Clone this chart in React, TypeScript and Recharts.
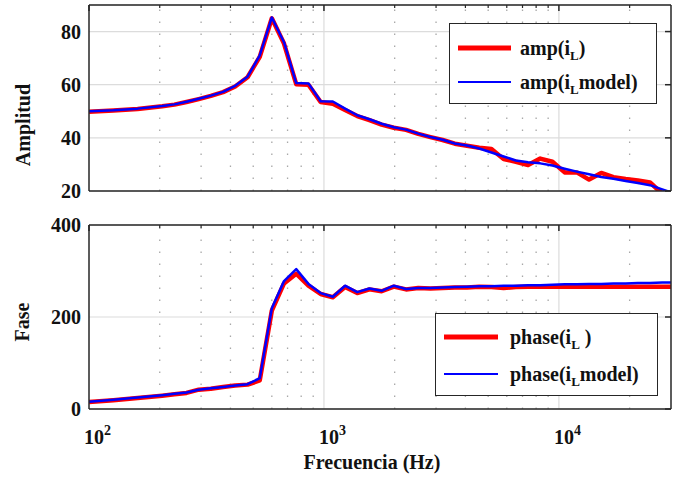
import React from 'react';
import { LineChart, Line, XAxis, YAxis, CartesianGrid, ReferenceLine, Legend } from 'recharts';

/* ── Data ────────────────────────────────────────── */
const FREQ = [
    100, 127, 161, 205, 231, 260, 293, 330, 372, 419, 473, 533, 600, 676, 762, 859, 968,
    1091, 1230, 1386, 1562, 1760, 1984, 2236, 2520, 2840, 3200, 3607, 4065, 4581, 5163,
    5819, 6558, 7391, 8330, 9388, 10580, 11924, 13438, 15145, 17068, 19236, 21679, 24432,
    27535, 30000,
];

const AMP_MEAS = [
    49.8, 50.3, 50.9, 51.9, 52.5, 53.5, 54.6, 55.8, 57.2, 59.3, 62.8, 70.5, 85.0, 75.5, 60.2, 60.0, 53.5,
    52.8, 50.5, 48.2, 46.7, 45.0, 43.8, 43.0, 41.5, 40.3, 39.2, 37.8, 37.0, 36.3, 35.8,
    32.0, 31.0, 29.8, 32.2, 31.0, 27.0, 27.0, 24.3, 26.8, 25.2, 24.5, 24.0, 23.2,
    19.0, 17.5,
];

const AMP_MODEL = [
    50.0, 50.4, 51.0, 52.0, 52.6, 53.6, 54.7, 55.9, 57.3, 59.6, 63.0, 71.0, 85.3, 76.0, 60.6, 60.5, 53.8,
    53.7, 51.0, 48.5, 47.0, 45.3, 44.0, 43.1, 41.6, 40.3, 39.3, 37.9, 37.1, 36.0, 34.5,
    33.0, 31.5, 30.8, 30.4, 29.6, 28.4, 27.3, 26.3, 25.3, 24.6, 23.8, 23.0, 22.2,
    20.6, 19.5,
];

const PHASE_MEAS = [
    15, 19, 24, 29, 32, 35, 42, 44, 48, 51, 53, 62, 214, 273, 294, 268, 250,
    243, 265, 252, 260, 256, 266, 260, 263, 262, 263, 264, 264, 266, 265,
    263, 265, 266, 266, 266, 266, 266, 266, 266, 266, 266, 266, 266,
    266, 266,
];

const PHASE_MODEL = [
    16, 20, 25, 30, 33, 36, 42, 45, 48, 51, 54, 67, 219, 278, 304, 272, 252,
    244, 268, 254, 262, 257, 268, 261, 263, 263, 264, 265, 266, 267, 267,
    268, 268, 269, 269, 270, 271, 271, 272, 272, 273, 273, 274, 274,
    275, 275,
];

const X_DOMAIN = [100, 30000];
const DECADES = [100, 1000, 10000];
const MINOR = [200, 300, 400, 500, 600, 700, 800, 900, 2000, 3000, 4000, 5000, 6000, 7000, 8000, 9000, 20000];
const AMP_DOMAIN = [20, 90];
const AMP_TICKS = [20, 40, 60, 80];
const PHASE_DOMAIN = [0, 400];
const PHASE_TICKS = [0, 200, 400];

const rows = FREQ.map((f, i) => ({
    f,
    ampMeas: AMP_MEAS[i],
    ampModel: AMP_MODEL[i],
    phaseMeas: PHASE_MEAS[i],
    phaseModel: PHASE_MODEL[i],
}));

/* ── Styles ──────────────────────────────────────── */
const FONT = '"Liberation Serif", "Times New Roman", serif';
const AXIS = '#262626';
const GRID = '#dcdcdc';
const MINOR_GRID = '#a8a8a8';
const RED = '#ff0000';
const BLUE = '#0000ff';
const INK = '#111';
const tickFont = { fill: INK, fontSize: 20, fontWeight: 700, fontFamily: FONT };
const THIN = 0.01; // frame axes need a non-zero size to be drawn
const W = 678;
const PLOT_LEFT = 89;
const PLOT_RIGHT_PAD = 7;
const PLOT_RIGHT = W - PLOT_RIGHT_PAD;

/* ── Helpers ─────────────────────────────────────── */
const renderName = (name: string) => {
    const [a, b] = name.split('_L');
    return (
        <>
            {a}
            <sub style={{ fontSize: 13, verticalAlign: -5, lineHeight: 0 }}>L</sub>
            {b}
        </>
    );
};

type BoxSpec = { w: number; h: number; rows: number[]; lx1: number; lx2: number; tx: number };

const makeLegend = (box: BoxSpec) => (props: any) => {
    const items = props.payload || [];
    return (
        <div style={{
            position: 'relative', width: box.w, height: box.h, boxSizing: 'border-box',
            border: `1.5px solid ${AXIS}`, background: '#fff',
        }}>
            {items.map((item: any, i: number) => (
                <div key={item.value} style={{ position: 'absolute', left: 0, top: box.rows[i] - 14, height: 28, width: box.w }}>
                    <svg width={box.w} height={28} style={{ position: 'absolute', left: 0, top: 0 }}>
                        <line x1={box.lx1} x2={box.lx2} y1={14} y2={14} stroke={item.color} strokeWidth={i === 0 ? 5 : 2} />
                    </svg>
                    <span style={{
                        position: 'absolute', left: box.tx, top: 2, whiteSpace: 'nowrap',
                        fontFamily: FONT, fontWeight: 700, fontSize: 20, lineHeight: '24px', color: INK,
                    }}>
                        {renderName(item.value)}
                    </span>
                </div>
            ))}
        </div>
    );
};

const DecadeTick = (props: any) => {
    const { x, y, payload } = props;
    const exp = Math.round(Math.log10(payload.value));
    return (
        <text x={x - 5} y={y + 27} textAnchor="start" fontFamily={FONT} fontWeight={700} fontSize={20} fill={INK}>
            <tspan>10</tspan>
            <tspan dy={-9} fontSize={14}>{exp}</tspan>
        </text>
    );
};

// box edge along the bottom with inward major/minor ticks (mirrored axes)
const bottomEdge = () => [
    <XAxis key="bmaj" xAxisId="bmaj" dataKey="f" type="number" scale="log" domain={X_DOMAIN} allowDataOverflow
        orientation="bottom" mirror height={THIN} ticks={DECADES} interval={0} tick={false} tickSize={6} stroke={AXIS} strokeWidth={1.5} />,
    <XAxis key="bmin" xAxisId="bmin" dataKey="f" type="number" scale="log" domain={X_DOMAIN} allowDataOverflow
        orientation="bottom" mirror height={THIN} ticks={MINOR} interval={0} tick={false} tickSize={3} axisLine={false} stroke={AXIS} strokeWidth={1.2} />,
];

// box edge along the left with inward ticks
const leftEdge = (yDomain: number[], yTicks: number[]) => (
    <YAxis key="lmaj" yAxisId="lmaj" type="number" domain={yDomain} allowDataOverflow orientation="left" mirror width={THIN}
        ticks={yTicks} interval={0} tick={false} tickSize={6} stroke={AXIS} strokeWidth={1.5} />
);

/* ── Top/right frame (plain svg overlay, same log / linear mapping as the plot) ── */
type FrameProps = { height: number; plotTop: number; plotBottom: number; yDomain: number[]; yTicks: number[] };

const FrameOverlay = ({ height, plotTop, plotBottom, yDomain, yTicks }: FrameProps) => {
    const lx0 = Math.log10(X_DOMAIN[0]);
    const lx1 = Math.log10(X_DOMAIN[1]);
    const xPx = (v: number) => PLOT_LEFT + ((Math.log10(v) - lx0) / (lx1 - lx0)) * (PLOT_RIGHT - PLOT_LEFT);
    const yPx = (v: number) => plotBottom - ((v - yDomain[0]) / (yDomain[1] - yDomain[0])) * (plotBottom - plotTop);
    return (
        <svg width={W} height={height} style={{ position: 'absolute', left: 0, top: 0, pointerEvents: 'none' }}>
            <line x1={PLOT_LEFT} x2={PLOT_RIGHT} y1={plotTop} y2={plotTop} stroke={AXIS} strokeWidth={1.5} />
            <line x1={PLOT_RIGHT} x2={PLOT_RIGHT} y1={plotTop} y2={plotBottom} stroke={AXIS} strokeWidth={1.5} />
            {DECADES.map((v) => (
                <line key={`t${v}`} x1={xPx(v)} x2={xPx(v)} y1={plotTop} y2={plotTop + 6} stroke={AXIS} strokeWidth={1.5} />
            ))}
            {MINOR.map((v) => (
                <line key={`m${v}`} x1={xPx(v)} x2={xPx(v)} y1={plotTop} y2={plotTop + 3} stroke={AXIS} strokeWidth={1.2} />
            ))}
            {yTicks.map((v) => (
                <line key={`r${v}`} x1={PLOT_RIGHT - 6} x2={PLOT_RIGHT} y1={yPx(v)} y2={yPx(v)} stroke={AXIS} strokeWidth={1.5} />
            ))}
        </svg>
    );
};

const gridLines = () => [
    ...DECADES.slice(1).map((v) => (
        <ReferenceLine key={`maj${v}`} x={v} xAxisId="lab" yAxisId="lab" stroke={GRID} strokeWidth={1.2} />
    )),
    ...MINOR.map((v) => (
        <ReferenceLine key={`min${v}`} x={v} xAxisId="lab" yAxisId="lab" stroke={MINOR_GRID} strokeWidth={1.3} strokeDasharray="1.5 10.5" />
    )),
];

/* ── Panels ──────────────────────────────────────── */
const AmpPanel = () => (
    <div style={{ position: 'absolute', left: 0, top: 0, width: W, height: 205 }}>
        <LineChart width={W} height={205} data={rows} margin={{ top: 5, right: PLOT_RIGHT_PAD, bottom: 0, left: 0 }}>
            <CartesianGrid xAxisId="lab" yAxisId="lab" vertical={false} stroke={GRID} strokeWidth={1.2} />
            {gridLines()}
            <XAxis xAxisId="lab" dataKey="f" type="number" scale="log" domain={X_DOMAIN} allowDataOverflow
                ticks={DECADES} interval={0} tick={false} tickLine={false} axisLine={false} height={14} />
            <YAxis yAxisId="lab" type="number" domain={AMP_DOMAIN} allowDataOverflow ticks={AMP_TICKS} interval={0}
                width={PLOT_LEFT} tickLine={false} axisLine={false} tick={tickFont}
                label={() => (
                    <text x={23} y={125} transform="rotate(-90 23 125)" textAnchor="middle" dominantBaseline="central"
                        fontFamily={FONT} fontWeight={700} fontSize={20} fill={INK}>Amplitud</text>
                )} />
            {bottomEdge()}
            {leftEdge(AMP_DOMAIN, AMP_TICKS)}
            <Line xAxisId="lab" yAxisId="lab" dataKey="ampMeas" name="amp(i_L)" stroke={RED} strokeWidth={4.5}
                dot={false} isAnimationActive={false} strokeLinejoin="round" />
            <Line xAxisId="lab" yAxisId="lab" dataKey="ampModel" name="amp(i_Lmodel)" stroke={BLUE} strokeWidth={2.5}
                dot={false} isAnimationActive={false} strokeLinejoin="round" />
            <Legend layout="vertical" align="center" verticalAlign="middle"
                wrapperStyle={{ left: 449, top: 23, width: 208, height: 81 }}
                content={makeLegend({ w: 208, h: 81, rows: [24, 58], lx1: 8, lx2: 61, tx: 70 })} />
        </LineChart>
        <FrameOverlay height={205} plotTop={5} plotBottom={191} yDomain={AMP_DOMAIN} yTicks={AMP_TICKS} />
    </div>
);

// phase panel starts at y=205 so the "400" label has room above the frame (frame top at 225)
const PhasePanel = () => (
    <div style={{ position: 'absolute', left: 0, top: 205, width: W, height: 272 }}>
        <LineChart width={W} height={272} data={rows} margin={{ top: 20, right: PLOT_RIGHT_PAD, bottom: 0, left: 0 }}>
            <CartesianGrid xAxisId="lab" yAxisId="lab" vertical={false} stroke={GRID} strokeWidth={1.2} />
            {gridLines()}
            <XAxis xAxisId="lab" dataKey="f" type="number" scale="log" domain={X_DOMAIN} allowDataOverflow
                ticks={DECADES} interval={0} tick={DecadeTick} tickLine={false} axisLine={false} height={68}
                label={() => (
                    <text x={372} y={264} textAnchor="middle" fontFamily={FONT} fontWeight={700} fontSize={20} fill={INK}>
                        Frecuencia (Hz)
                    </text>
                )} />
            <YAxis yAxisId="lab" type="number" domain={PHASE_DOMAIN} allowDataOverflow ticks={PHASE_TICKS} interval={0}
                width={PLOT_LEFT} tickLine={false} axisLine={false} tick={tickFont}
                label={() => (
                    <text x={22} y={117} transform="rotate(-90 22 117)" textAnchor="middle" dominantBaseline="central"
                        fontFamily={FONT} fontWeight={700} fontSize={20} fill={INK}>Fase</text>
                )} />
            {bottomEdge()}
            {leftEdge(PHASE_DOMAIN, PHASE_TICKS)}
            <Line xAxisId="lab" yAxisId="lab" dataKey="phaseMeas" name="phase(i_L )" stroke={RED} strokeWidth={4.5}
                dot={false} isAnimationActive={false} strokeLinejoin="round" />
            <Line xAxisId="lab" yAxisId="lab" dataKey="phaseModel" name="phase(i_Lmodel)" stroke={BLUE} strokeWidth={2.5}
                dot={false} isAnimationActive={false} strokeLinejoin="round" />
            <Legend layout="vertical" align="center" verticalAlign="middle"
                wrapperStyle={{ left: 435, top: 108, width: 223, height: 83 }}
                content={makeLegend({ w: 223, h: 83, rows: [23, 60], lx1: 8, lx2: 62, tx: 74 })} />
        </LineChart>
        <FrameOverlay height={272} plotTop={20} plotBottom={204} yDomain={PHASE_DOMAIN} yTicks={PHASE_TICKS} />
    </div>
);

export default function App() {
    return (
        <div style={{ position: 'absolute', left: 0, top: 0, width: W, height: 477, background: '#fff' }}>
            <AmpPanel />
            <PhasePanel />
        </div>
    );
}
